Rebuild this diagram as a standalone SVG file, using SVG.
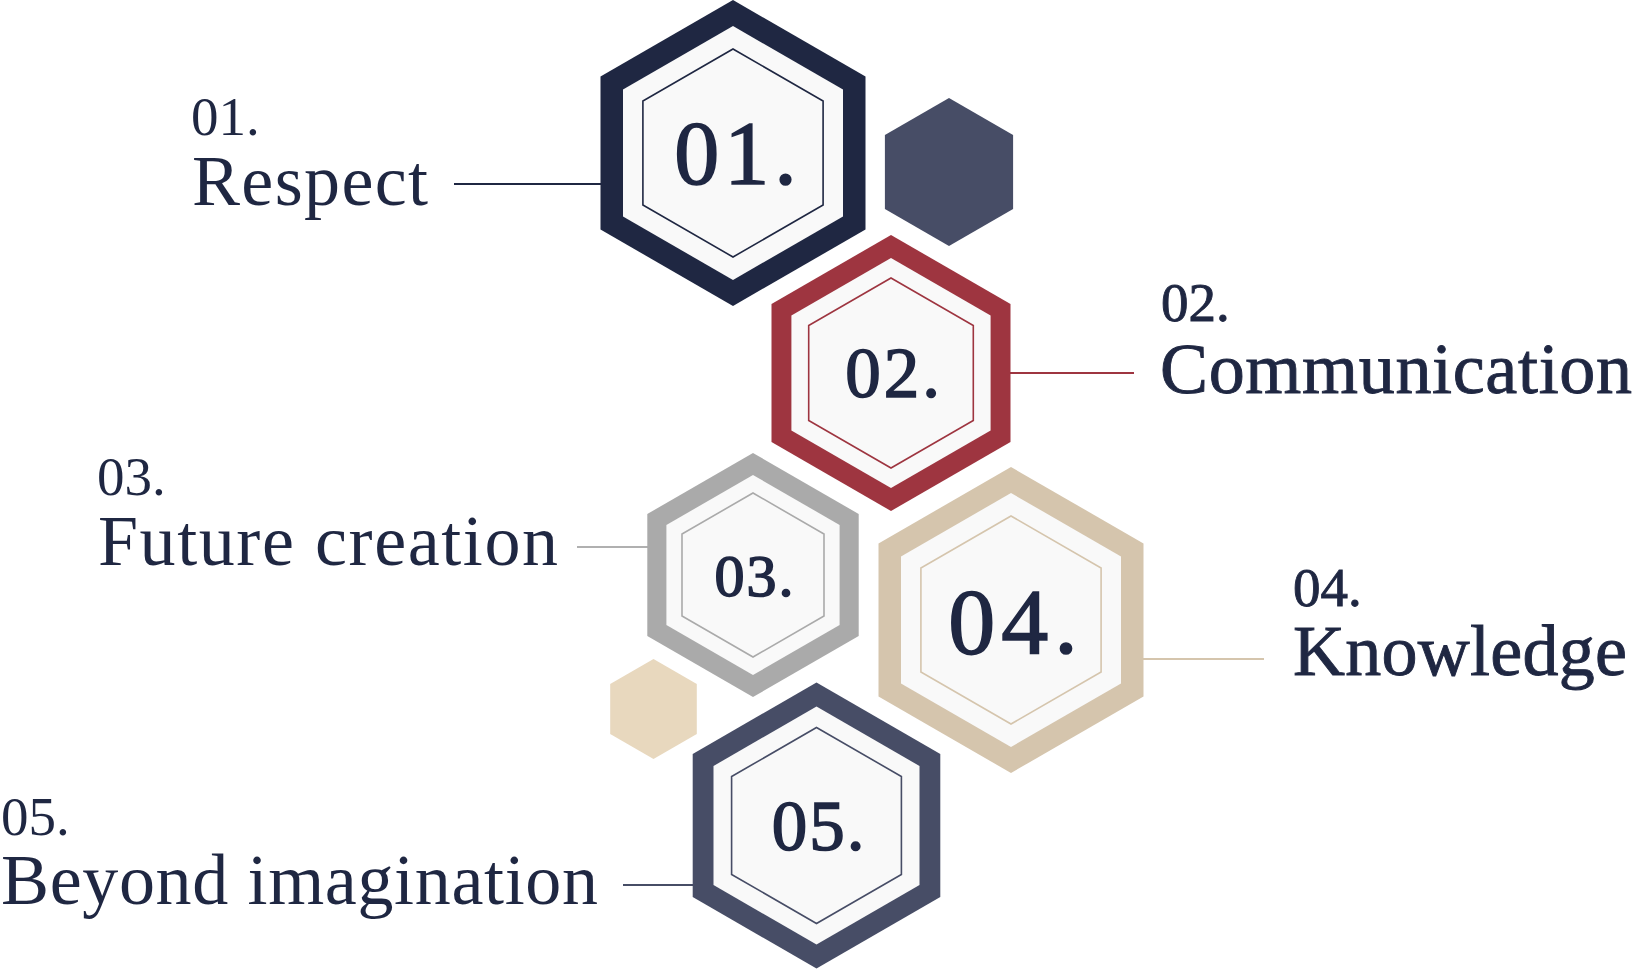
<svg xmlns="http://www.w3.org/2000/svg" width="1637" height="969" viewBox="0 0 1637 969">
<style>
.bg{fill:#ffffff}
.in{fill:#f9f9f9}
.ln{fill:none;stroke-width:1.6}
.num{font-family:"Liberation Serif","Times New Roman",serif;fill:#1f2742;text-anchor:middle;stroke:#1f2742;stroke-width:1.6}
.lab{font-family:"Liberation Serif","Times New Roman",serif;fill:#1f2742;font-size:72px}
.sm{font-family:"Liberation Serif","Times New Roman",serif;fill:#1f2742;font-size:55px}
.hv{stroke:#1f2742;stroke-width:0.9}
.con{stroke-width:2;fill:none}
</style>
<rect class="bg" x="0" y="0" width="1637" height="969"/>
<g id="connectors">
<line class="con" x1="454" y1="184" x2="601" y2="184" stroke="#1f2742"/>
<line class="con" x1="1010" y1="373" x2="1134" y2="373" stroke="#9e3540"/>
<line class="con" x1="577" y1="547" x2="648" y2="547" stroke="#b0b0b0"/>
<line class="con" x1="1143" y1="659" x2="1264" y2="659" stroke="#d5c5ad"/>
<line class="con" x1="623" y1="885" x2="693" y2="885" stroke="#474d66"/>
</g>
<g id="deco1">
<polygon points="949,98 1013.1,135 1013.1,209 949,246 884.9,209 884.9,135" fill="#474d66"/>
</g>
<g id="deco2">
<polygon points="653.5,659 696.8,684 696.8,734 653.5,759 610.2,734 610.2,684" fill="#e8d8be"/>
</g>
<g id="node1">
<polygon points="733,0 865.5,76.5 865.5,229.5 733,306 600.5,229.5 600.5,76.5" fill="#1f2742"/>
<polygon class="in" points="733,26 843,89.5 843,216.5 733,280 623,216.5 623,89.5"/>
<polygon class="ln" stroke="#1f2742" points="733,49 823.1,101 823.1,205 733,257 642.9,205 642.9,101"/>
<text class="num" x="738" y="184" font-size="90" letter-spacing="5">01.</text>
<text class="sm" x="191" y="135">01.</text>
<text class="lab" x="192" y="205" textLength="236" lengthAdjust="spacing">Respect</text>
</g>
<g id="node2">
<polygon points="891,235 1010.5,304 1010.5,442 891,511 771.5,442 771.5,304" fill="#9e3540"/>
<polygon class="in" points="891,258 990.6,315.5 990.6,430.5 891,488 791.4,430.5 791.4,315.5"/>
<polygon class="ln" stroke="#9e3540" points="891,278 973.3,325.5 973.3,420.5 891,468 808.7,420.5 808.7,325.5"/>
<text class="num" x="894" y="397" font-size="71" stroke-width="1.3" letter-spacing="3">02.</text>
<text class="sm hv" x="1161" y="321">02.</text>
<text class="lab hv" x="1160" y="393" textLength="472" lengthAdjust="spacing">Communication</text>
</g>
<g id="node3">
<polygon points="753,453 858.7,514 858.7,636 753,697 647.3,636 647.3,514" fill="#aaaaaa"/>
<polygon class="in" points="753,475 839.6,525 839.6,625 753,675 666.4,625 666.4,525"/>
<polygon class="ln" stroke="#aaaaaa" points="753,493 824,534 824,616 753,657 682,616 682,534"/>
<text class="num" x="755" y="596" font-size="60" stroke-width="1.1" letter-spacing="2">03.</text>
<text class="sm" x="97" y="495">03.</text>
<text class="lab" x="98" y="565" textLength="460" lengthAdjust="spacing">Future creation</text>
</g>
<g id="node4">
<polygon points="1011,467 1143.5,543.5 1143.5,696.5 1011,773 878.5,696.5 878.5,543.5" fill="#d5c5ad"/>
<polygon class="in" points="1011,493 1121,556.5 1121,683.5 1011,747 901,683.5 901,556.5"/>
<polygon class="ln" stroke="#d5c5ad" points="1011,516 1101.1,568 1101.1,672 1011,724 920.9,672 920.9,568"/>
<text class="num" x="1016" y="653" font-size="94" letter-spacing="6">04.</text>
<text class="sm hv" x="1293" y="606">04.</text>
<text class="lab hv" x="1293" y="675" textLength="334" lengthAdjust="spacing">Knowledge</text>
</g>
<g id="node5">
<polygon points="816.5,682.5 940.3,754 940.3,897 816.5,968.5 692.7,897 692.7,754" fill="#474d66"/>
<polygon class="in" points="816.5,706.5 919.5,766 919.5,885 816.5,944.5 713.5,885 713.5,766"/>
<polygon class="ln" stroke="#474d66" points="816.5,727.5 901.4,776.5 901.4,874.5 816.5,923.5 731.6,874.5 731.6,776.5"/>
<text class="num" x="819" y="850" font-size="71" stroke-width="1.3" letter-spacing="2">05.</text>
<text class="sm" x="1" y="835">05.</text>
<text class="lab" x="1" y="904" textLength="597" lengthAdjust="spacing">Beyond imagination</text>
</g>
</svg>
